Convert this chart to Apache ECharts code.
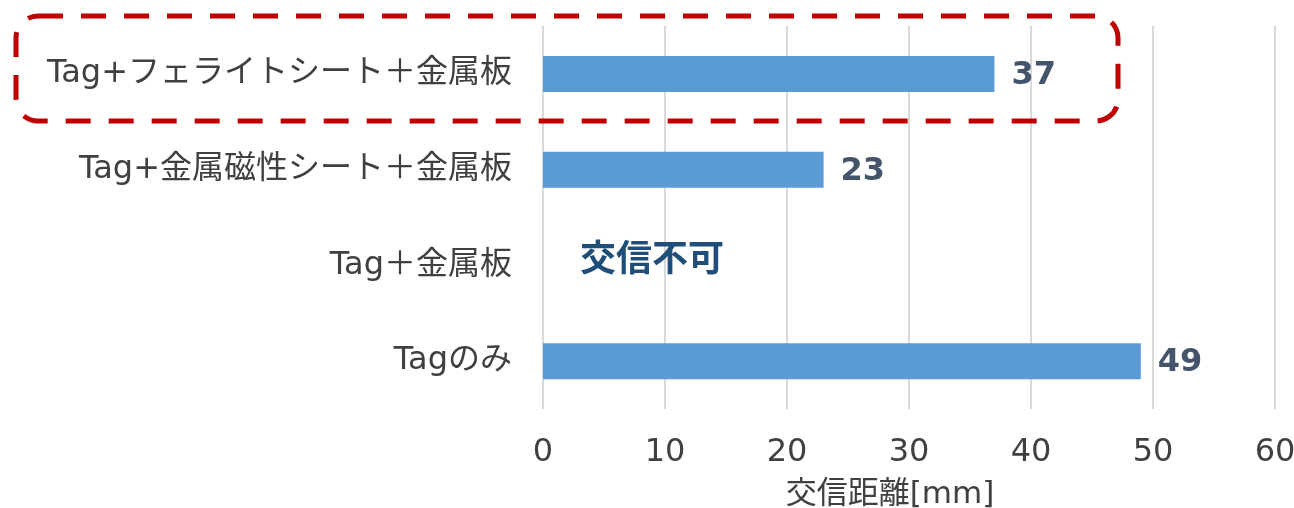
<!DOCTYPE html>
<html>
<head>
    <meta charset="UTF-8">
    <title>交信距離</title>
    <script src="https://cdn.jsdelivr.net/npm/echarts@6/dist/echarts.min.js"></script>
    <style>
        html, body {margin: 0; padding: 0; background: #fff;}
        #chart {width: 1294px; height: 508px;}
    </style>
</head>
<body>
    <div id="chart"></div>
    <script>
        // データ
        const categories = ['Tag+フェライトシート＋金属板', 'Tag+金属磁性シート＋金属板', 'Tag＋金属板', 'Tagのみ'];
        const distances = [37, 23, 0, 49];
        const valueLabels = ['37', '23', '交信不可', '49'];
        const xTicks = [0, 10, 20, 30, 40, 50, 60];

        const font = 'DejaVu Sans, "Noto Sans CJK JP", sans-serif';

        const chart = echarts.init(document.getElementById('chart'));
        chart.setOption({
            animation: false,
            grid: { left: 543, right: 19, top: 26, bottom: 99, outerBoundsMode: 'none' },
            xAxis: {
                type: 'value',
                min: xTicks[0],
                max: xTicks[xTicks.length - 1],
                interval: 10,
                name: '交信距離[mm]',
                nameLocation: 'middle',
                nameGap: 70,
                nameTextStyle: { fontSize: 31, color: '#404040', fontFamily: font, padding: [0, 38, 0, 0] },
                axisLine: { show: false },
                axisTick: { show: false },
                axisLabel: { fontSize: 32, color: '#404040', fontFamily: font, margin: 28 },
                splitLine: { lineStyle: { color: '#D9D9D9', width: 2 } }
            },
            yAxis: {
                type: 'category',
                data: categories,
                inverse: true,
                axisLine: { show: false },
                axisTick: { show: false },
                axisLabel: { fontSize: 32, color: '#404040', fontFamily: font, margin: 31 }
            },
            series: [{
                type: 'bar',
                barWidth: 36,
                itemStyle: { color: '#5B9BD5' },
                data: distances.map((v, i) => {
                    const item = { value: v };
                    if (valueLabels[i] === '交信不可') {
                        item.label = {
                            show: true, position: 'right', distance: 37, offset: [0, -8],
                            formatter: valueLabels[i],
                            fontSize: 36, fontWeight: 'bold', color: '#1F4E79',
                            fontFamily: '"Noto Sans CJK JP", sans-serif'
                        };
                    }
                    return item;
                }),
                label: {
                    show: true,
                    position: 'right',
                    distance: 17,
                    offset: [0, 2],
                    fontSize: 32,
                    fontWeight: 'bold',
                    color: '#44546A',
                    fontFamily: font,
                    formatter: p => valueLabels[p.dataIndex]
                }
            }],
            graphic: [{
                type: 'rect',
                shape: { x: 16, y: 16, width: 1102, height: 105, r: 22 },
                style: { fill: 'none', stroke: '#C00000', lineWidth: 5, lineDash: [25, 18] },
                z: 100
            }]
        });
    </script>
</body>
</html>
